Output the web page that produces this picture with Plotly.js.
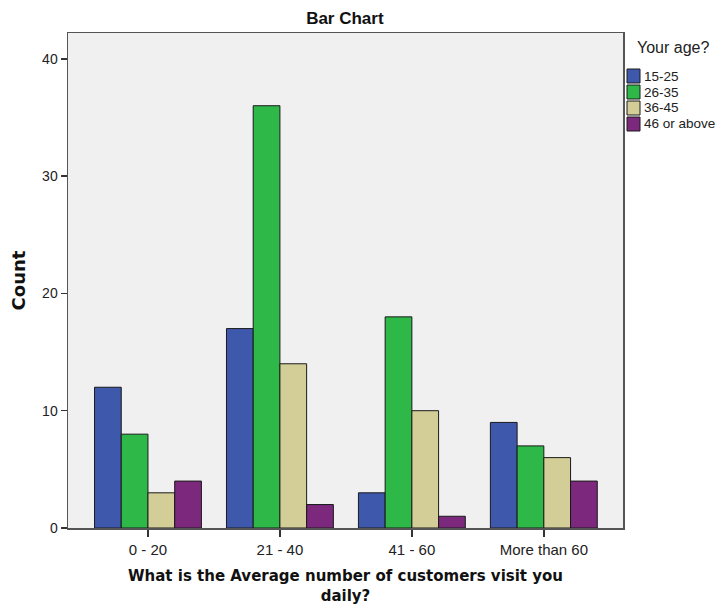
<!DOCTYPE html>
<html><head><meta charset="utf-8">
<script src="https://cdn.plot.ly/plotly-3.0.1.min.js"></script>
<style>body{margin:0;background:#fff}#c{width:723px;height:605px}</style>
</head><body><div id="c"></div>
<script>
const categories = ["0 - 20", "21 - 40", "41 - 60", "More than 60"];
const seriesNames = ["15-25", "26-35", "36-45", "46 or above"];
const age15_25 = [12, 17, 3, 9];
const age26_35 = [8, 36, 18, 7];
const age36_45 = [3, 14, 10, 6];
const age46plus = [4, 2, 1, 4];
const colors = ["#3E58AC", "#2EB848", "#D3CE97", "#7C287D"];
const allValues = [age15_25, age26_35, age36_45, age46plus];

// plot box in pixels (layout only)
const PL = 68, PR = 623, PT = 33, PB = 528;
const px = v => (v - PL) / (PR - PL);
const py = v => (PB - v) / (PB - PT);

const traces = allValues.map((v, i) => ({
  type: "bar", name: seriesNames[i], x: categories, y: v,
  marker: {color: colors[i], line: {color: "#1a1a1a", width: 1}},
  showlegend: false
}));

// legend drawn as shapes + annotations
const shapes = [];
const annotations = [{
  xref: "paper", yref: "paper", x: px(635), y: py(48), xanchor: "left", yanchor: "middle",
  text: "Your age?", showarrow: false, font: {size: 16, color: "#222"}
}];
seriesNames.forEach((n, i) => {
  const top = 69 + i * 16;
  shapes.push({type: "rect", xref: "paper", yref: "paper",
    x0: px(627), x1: px(640), y0: py(top + 14), y1: py(top),
    fillcolor: colors[i], line: {color: "#1a1a1a", width: 1}});
  annotations.push({xref: "paper", yref: "paper", x: px(642), y: py(top + 7),
    xanchor: "left", yanchor: "middle", text: n, showarrow: false,
    font: {size: 13.5, color: "#222"}});
});

const layout = {
  width: 723, height: 605,
  margin: {l: PL, r: 723 - PR, t: PT, b: 605 - PB, autoexpand: false},
  paper_bgcolor: "#ffffff", plot_bgcolor: "#f0f0f0",
  barmode: "group", bargap: 0.19, bargroupgap: 0,
  font: {family: "Liberation Sans, Arial, sans-serif", size: 12, color: "#222"},
  title: {text: "<b>Bar Chart</b>", x: 0.477, xanchor: "center", y: 0.97, yanchor: "middle", font: {size: 17, color: "#111"}},
  xaxis: {
    type: "category", range: [-0.606, 3.6],
    showgrid: false, zeroline: false,
    ticks: "outside", ticklen: 7, tickcolor: "#333", tickwidth: 1.5,
    showline: true, linecolor: "#555", linewidth: 1.5, mirror: true,
    tickfont: {size: 15, color: "#222"},
    title: {text: "<b>What is the Average number of customers visit you<br>daily?</b>", font: {family: "DejaVu Sans", size: 15, color: "#111"}, standoff: 14}
  },
  yaxis: {
    range: [0, 42.2], tickvals: [0, 10, 20, 30, 40],
    showgrid: false, zeroline: false,
    ticks: "outside", ticklen: 6, tickcolor: "#333", tickwidth: 1.5,
    showline: true, linecolor: "#555", linewidth: 1.5, mirror: true,
    tickfont: {size: 14, color: "#222"},
    title: {text: "<b>Count</b>", font: {family: "DejaVu Sans", size: 18, color: "#111"}, standoff: 12}
  },
  showlegend: false,
  shapes: shapes,
  annotations: annotations
};
Plotly.newPlot("c", traces, layout, {displayModeBar: false, staticPlot: true});
</script></body></html>
